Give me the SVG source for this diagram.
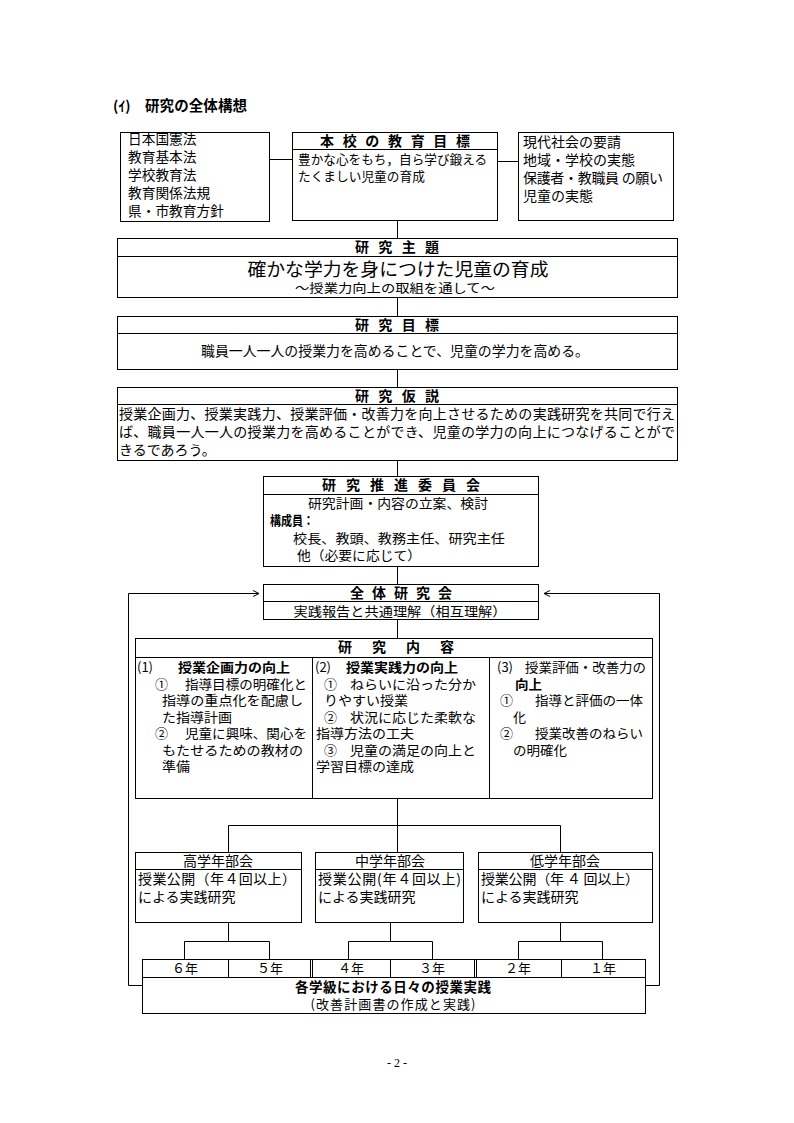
<svg xmlns="http://www.w3.org/2000/svg" width="794" height="1123" viewBox="0 0 794 1123">
<style>
text{font-family:"Noto Sans CJK JP","Noto Sans CJK SC",sans-serif;font-size:14px;fill:#000}
.b{font-weight:bold}
.m{text-anchor:middle}
.s13{font-size:13px}
.s135{font-size:13.5px}
.c{font-size:13px}
.box{fill:#fff;stroke:#000;stroke-width:1}
.ln{fill:none;stroke:#000;stroke-width:1}
.arr{fill:none;stroke:#000;stroke-width:1;marker-end:url(#ah)}
</style>
<defs>
<marker id="ah" viewBox="0 0 8 8" refX="7" refY="4" markerWidth="8" markerHeight="8" markerUnits="userSpaceOnUse" orient="auto">
<path d="M1,1 L7,4 L1,7" fill="none" stroke="#000" stroke-width="1"/>
</marker>
</defs>
<rect width="794" height="1123" fill="#fff"/>
<text class="b" x="113" y="111">(ｲ)</text>
<text class="b" x="145" y="111" style="font-size:14.5px" textLength="102">研究の全体構想</text>

<g id="connectors">
<path class="ln" d="M269.5 159.5H292.5M497.5 161.5H518.5"/>
<path class="ln" d="M397.5 221V238M397.5 297V316M397.5 369V387M397.5 460V476M397.5 566V584M397.5 620V638"/>
<path class="ln" d="M397.5 798V852M228.5 852V825.5H560.5V852"/>
<path class="ln" d="M228.5 923V941M390.5 923V941M560.5 923V941"/>
<path class="ln" d="M184.5 959V941.5H269.5V959M348.5 959V941.5H432.5V959M518.5 959V941.5H602.5V959"/>
<path class="arr" d="M142 985.5H128.5V593.5H259"/>
<path class="arr" d="M645 985.5H659.5V593.5H544"/>
</g>

<g id="laws">
<rect class="box" x="120.5" y="132.5" width="149" height="89"/>
<text x="128" y="144" style="font-size:13.7px">日本国憲法</text>
<text x="128" y="162" style="font-size:13.7px">教育基本法</text>
<text x="128" y="180" style="font-size:13.7px">学校教育法</text>
<text x="128" y="198" style="font-size:13.7px">教育関係法規</text>
<text x="128" y="216" style="font-size:13.7px">県・市教育方針</text>
</g>

<g id="school-goal">
<rect class="box" x="292.5" y="132.5" width="205" height="88"/>
<path class="ln" d="M292.5 149.5H497.5"/>
<text class="b m" x="395" y="146" textLength="150">本 校 の 教 育 目 標</text>
<text x="298" y="163.5" style="font-size:12.6px" textLength="189">豊かな心をもち，自ら学び鍛える</text>
<text x="298" y="180.5" style="font-size:12.7px">たくましい児童の育成</text>
</g>

<g id="society">
<rect class="box" x="518.5" y="132.5" width="155" height="88"/>
<text x="523" y="146.5">現代社会の要請</text>
<text x="523" y="164.5">地域・学校の実態</text>
<text x="523" y="182.5" textLength="140">保護者・教職員 の願い</text>
<text x="523" y="200.5">児童の実態</text>
</g>

<g id="theme">
<rect class="box" x="117.5" y="238.5" width="560" height="59"/>
<path class="ln" d="M117.5 256.5H677.5"/>
<text class="b m" x="397" y="252" textLength="84">研 究 主 題</text>
<text class="m" x="398" y="275.5" style="font-size:18px" textLength="301" lengthAdjust="spacingAndGlyphs">確かな学力を身につけた児童の育成</text>
<text class="m" x="395" y="293" style="font-size:12.5px" textLength="200" lengthAdjust="spacingAndGlyphs">～授業力向上の取組を通して～</text>
</g>

<g id="goal">
<rect class="box" x="117.5" y="316.5" width="560" height="53"/>
<path class="ln" d="M117.5 333.5H677.5"/>
<text class="b m" x="397" y="330" textLength="84">研 究 目 標</text>
<text class="m" x="395" y="356" style="font-size:13.9px">職員一人一人の授業力を高めることで、児童の学力を高める。</text>
</g>

<g id="hypothesis">
<rect class="box" x="117.5" y="387.5" width="560" height="73"/>
<path class="ln" d="M117.5 404.5H677.5"/>
<text class="b m" x="397" y="401" textLength="84">研 究 仮 説</text>
<text x="119" y="419" textLength="556">授業企画力、授業実践力、授業評価・改善力を向上させるための実践研究を共同で行え</text>
<text x="119" y="437" textLength="556">ば、職員一人一人の授業力を高めることができ、児童の学力の向上につなげることがで</text>
<text x="119" y="455">きるであろう。</text>
</g>

<g id="committee">
<rect class="box" x="263.5" y="476.5" width="275" height="90"/>
<path class="ln" d="M263.5 494.5H538.5"/>
<text class="b m" x="401" y="490" textLength="158">研 究 推 進 委 員 会</text>
<text class="m c" x="398" y="507.5" textLength="180" lengthAdjust="spacingAndGlyphs">研究計画・内容の立案、検討</text>
<text class="b c" x="270" y="525" textLength="44" lengthAdjust="spacingAndGlyphs">構成員：</text>
<text class="c" x="293" y="543" textLength="212" lengthAdjust="spacingAndGlyphs">校長、教頭、教務主任、研究主任</text>
<text class="c" x="297" y="560" textLength="124" lengthAdjust="spacingAndGlyphs">他（必要に応じて）</text>
</g>

<g id="all-meeting">
<rect class="box" x="263.5" y="584.5" width="275" height="35"/>
<path class="ln" d="M263.5 601.5H538.5"/>
<text class="b m" x="401" y="598" textLength="102">全 体 研 究 会</text>
<text class="m c" x="400" y="616" textLength="213" lengthAdjust="spacingAndGlyphs">実践報告と共通理解（相互理解）</text>
</g>

<g id="content">
<rect class="box" x="135.5" y="638.5" width="517" height="160"/>
<path class="ln" d="M135.5 657.5H652.5M312.5 657.5V798.5M489.5 657.5V798.5"/>
<text class="b m" x="396" y="652" textLength="116">研　究　内　容</text>
<text class="c" x="137" y="672">(1)</text>
<text class="b c" x="178" y="672" textLength="112" lengthAdjust="spacingAndGlyphs">授業企画力の向上</text>
<text class="c" x="155" y="688.5">①</text>
<text class="c" x="185" y="688.5" textLength="122" lengthAdjust="spacingAndGlyphs">指導目標の明確化と</text>
<text class="c" x="162" y="705" textLength="141" lengthAdjust="spacingAndGlyphs">指導の重点化を配慮し</text>
<text class="c" x="162" y="721.5" textLength="70" lengthAdjust="spacingAndGlyphs">た指導計画</text>
<text class="c" x="155" y="738">②</text>
<text class="c" x="185" y="738" textLength="122" lengthAdjust="spacingAndGlyphs">児童に興味、関心を</text>
<text class="c" x="162" y="754.5" textLength="141" lengthAdjust="spacingAndGlyphs">もたせるための教材の</text>
<text class="c" x="162" y="771" textLength="28" lengthAdjust="spacingAndGlyphs">準備</text>

<text class="c" x="315" y="672">(2)</text>
<text class="b c" x="346" y="672" textLength="112" lengthAdjust="spacingAndGlyphs">授業実践力の向上</text>
<text class="c" x="324" y="688.5">①</text>
<text class="c" x="350" y="688.5" textLength="126" lengthAdjust="spacingAndGlyphs">ねらいに沿った分か</text>
<text class="c" x="324" y="705" textLength="84" lengthAdjust="spacingAndGlyphs">りやすい授業</text>
<text class="c" x="324" y="721.5">②</text>
<text class="c" x="350" y="721.5" textLength="126" lengthAdjust="spacingAndGlyphs">状況に応じた柔軟な</text>
<text class="c" x="316" y="738" textLength="98" lengthAdjust="spacingAndGlyphs">指導方法の工夫</text>
<text class="c" x="324" y="754.5">③</text>
<text class="c" x="350" y="754.5" textLength="126" lengthAdjust="spacingAndGlyphs">児童の満足の向上と</text>
<text class="c" x="316" y="771" textLength="98" lengthAdjust="spacingAndGlyphs">学習目標の達成</text>

<text class="c" x="497" y="672">(3)</text>
<text class="c" x="525" y="672" textLength="121" lengthAdjust="spacingAndGlyphs">授業評価・改善力の</text>
<text class="b c" x="515" y="688.5" textLength="27" lengthAdjust="spacingAndGlyphs">向上</text>
<text class="c" x="500" y="705">①</text>
<text class="c" x="535" y="705" textLength="108" lengthAdjust="spacingAndGlyphs">指導と評価の一体</text>
<text class="c" x="513" y="721.5">化</text>
<text class="c" x="500" y="738">②</text>
<text class="c" x="535" y="738" textLength="108" lengthAdjust="spacingAndGlyphs">授業改善のねらい</text>
<text class="c" x="513" y="754.5" textLength="54" lengthAdjust="spacingAndGlyphs">の明確化</text>
</g>

<g id="upper-grade">
<rect class="box" x="135.5" y="852.5" width="166" height="70"/>
<path class="ln" d="M135.5 869.5H301.5"/>
<text class="m" x="218" y="866">高学年部会</text>
<text x="138" y="884" textLength="158">授業公開（年４回以上）</text>
<text x="138" y="902">による実践研究</text>
</g>

<g id="middle-grade">
<rect class="box" x="315.5" y="852.5" width="148" height="70"/>
<path class="ln" d="M315.5 869.5H463.5"/>
<text class="m" x="390" y="866">中学年部会</text>
<text x="318" y="884" textLength="143">授業公開(年４回以上)</text>
<text x="318" y="902">による実践研究</text>
</g>

<g id="lower-grade">
<rect class="box" x="478.5" y="852.5" width="174" height="70"/>
<path class="ln" d="M478.5 869.5H652.5"/>
<text class="m" x="565" y="866">低学年部会</text>
<text x="481" y="884" textLength="158">授業公開（年 ４ 回以上）</text>
<text x="481" y="902">による実践研究</text>
</g>

<g id="grades">
<rect class="box" x="142.5" y="959.5" width="503" height="18"/>
<path class="ln" d="M228.5 959.5V977.5M310.5 959.5V977.5M312.5 959.5V977.5M390.5 959.5V977.5M474.5 959.5V977.5M476.5 959.5V977.5M561.5 959.5V977.5"/>
<text class="m s13" x="185" y="973">６年</text>
<text class="m s13" x="270" y="973">５年</text>
<text class="m s13" x="351" y="973">４年</text>
<text class="m s13" x="432" y="973">３年</text>
<text class="m s13" x="518" y="973">２年</text>
<text class="m s13" x="603" y="973">１年</text>
</g>

<g id="daily">
<rect class="box" x="142.5" y="977.5" width="503" height="36"/>
<text class="b m s135" x="393" y="992" textLength="196">各学級における日々の授業実践</text>
<text class="m s13" x="393" y="1008.5" textLength="165">(改善計画書の作成と実践)</text>
</g>

<text x="397" y="1067" text-anchor="middle" style="font-family:'Liberation Serif',serif;font-size:12px">- 2 -</text>
</svg>
